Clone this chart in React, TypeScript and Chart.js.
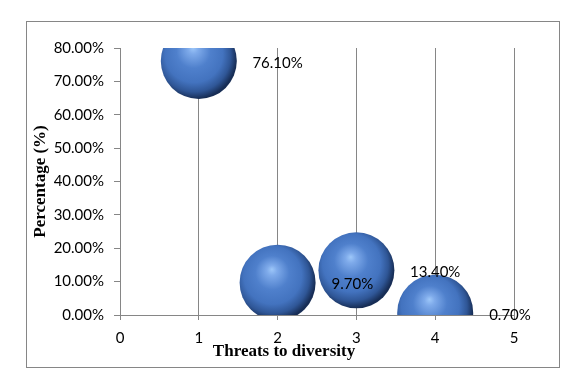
import React, { useEffect, useRef } from "react";
import { Chart, registerables } from "chart.js";

Chart.register(...registerables);

// ---- data ----
const threatIndex = [1, 2, 3, 4];
const percentValues = [76.1, 9.7, 13.4, 0.7];
const bubbleRadius = [38, 38, 38, 38];
const dataLabels = ["76.10%", "9.70%", "13.40%", "0.70%"];
const xTickValues = [0, 1, 2, 3, 4, 5];
const yTickValues = [0, 10, 20, 30, 40, 50, 60, 70, 80];
const yTickLabels = ["0.00%", "10.00%", "20.00%", "30.00%", "40.00%", "50.00%", "60.00%", "70.00%", "80.00%"];
const xTitle = "Threats to diversity";
const yTitle = "Percentage (%)";

const GRID = "#868686";
const TICK_FONT = { family: "Lato, 'Open Sans', sans-serif", size: 15 };
const TITLE_FONT = { family: "'Liberation Serif', 'Times New Roman', serif", size: 17, weight: "bold" as const };

const framePlugin = {
  id: "frame",
  beforeDraw(chart: any) {
    const { ctx, width, height } = chart;
    ctx.save();
    ctx.fillStyle = "#ffffff";
    ctx.fillRect(0, 0, width, height);
    ctx.strokeStyle = GRID;
    ctx.lineWidth = 1;
    ctx.strokeRect(26.5, 21.5, 533, 346);
    ctx.restore();
  },
  afterDraw(chart: any) {
    const { ctx } = chart;
    ctx.save();
    ctx.font = `bold ${TITLE_FONT.size}px ${TITLE_FONT.family}`;
    ctx.fillStyle = "#000";
    ctx.textAlign = "center";
    ctx.textBaseline = "middle";
    ctx.fillText(xTitle, 284, 352);
    ctx.restore();
  },
};

const labelPlugin = {
  id: "valueLabels",
  afterDatasetsDraw(chart: any) {
    const { ctx } = chart;
    const xs = chart.scales.x;
    const ys = chart.scales.y;
    ctx.save();
    ctx.font = `${TICK_FONT.size}px ${TICK_FONT.family}`;
    ctx.fillStyle = "#000000";
    ctx.textAlign = "center";
    ctx.textBaseline = "middle";
    threatIndex.forEach((t, i) => {
      const dx = i === 1 || i === 3 ? -4 : 0;
      ctx.fillText(dataLabels[i], xs.getPixelForValue(t + 1) + dx, ys.getPixelForValue(percentValues[i]) + 2);
    });
    ctx.restore();
  },
};

function sphereFill(c: any) {
  const chart = c.chart;
  const xs = chart.scales?.x;
  const ys = chart.scales?.y;
  const raw = c.raw;
  if (!xs || !ys || !raw) return "#4f81bd";
  const cx = xs.getPixelForValue(raw.x);
  const cy = ys.getPixelForValue(raw.y);
  const r = raw.r;
  if (!isFinite(cx) || !isFinite(cy) || !isFinite(r)) return "#4f81bd";
  const g = chart.ctx.createRadialGradient(cx - 0.15 * r, cy - 0.35 * r, 0, cx - 0.12 * r, cy - 0.12 * r, r * 1.12);
  g.addColorStop(0, "#9dc7f9");
  g.addColorStop(0.12, "#7eaaea");
  g.addColorStop(0.4, "#4f80cc");
  g.addColorStop(0.68, "#4373bf");
  g.addColorStop(0.86, "#2f5696");
  g.addColorStop(1, "#172d55");
  return g;
}

export default function App() {
  const ref = useRef<HTMLCanvasElement | null>(null);

  useEffect(() => {
    document.body.style.margin = "0";
    if (!ref.current) return;
    const chart = new Chart(ref.current, {
      type: "bubble",
      data: {
        datasets: [
          {
            label: "Threats",
            data: threatIndex.map((x, i) => ({ x, y: percentValues[i], r: bubbleRadius[i] })),
            backgroundColor: sphereFill as any,
            borderWidth: 0,
            clip: 0,
          } as any,
        ],
      },
      options: {
        responsive: false,
        animation: false,
        events: [],
        layout: { padding: { left: 27, top: 48, right: 68, bottom: 20 } },
        plugins: {
          legend: { display: false },
          tooltip: { enabled: false },
        },
        scales: {
          x: {
            type: "linear",
            min: 0,
            max: 5,
            afterBuildTicks: (s: any) => {
              s.ticks = xTickValues.map((v) => ({ value: v }));
            },
            afterFit: (s: any) => {
              s.height = 52;
            },
            ticks: { font: TICK_FONT, color: "#000", padding: 9, maxRotation: 0, autoSkip: false },
            grid: {
              color: (c: any) => (c.tick && c.tick.value === 0 ? "rgba(0,0,0,0)" : GRID),
              tickColor: GRID,
              tickLength: 5,
              lineWidth: 1,
            },
            border: { display: true, color: GRID },
            title: { display: false, text: xTitle },
          },
          y: {
            type: "linear",
            min: 0,
            max: 80,
            afterBuildTicks: (s: any) => {
              s.ticks = yTickValues.map((v) => ({ value: v }));
            },
            afterFit: (s: any) => {
              s.width = 93;
            },
            ticks: {
              font: TICK_FONT,
              color: "#000",
              padding: 10,
              autoSkip: false,
              callback: (_v: any, i: number) => yTickLabels[i],
            },
            grid: { drawOnChartArea: false, tickLength: 6, color: GRID, tickColor: GRID },
            border: { display: true, color: GRID },
            title: { display: true, text: yTitle, font: TITLE_FONT, color: "#000", padding: { top: 3, bottom: 0 } },
          },
        },
      },
      plugins: [framePlugin, labelPlugin],
    });
    return () => chart.destroy();
  }, []);

  return (
    <div style={{ width: 582, height: 387 }}>
      <canvas ref={ref} width={582} height={387} style={{ display: "block" }} />
    </div>
  );
}
